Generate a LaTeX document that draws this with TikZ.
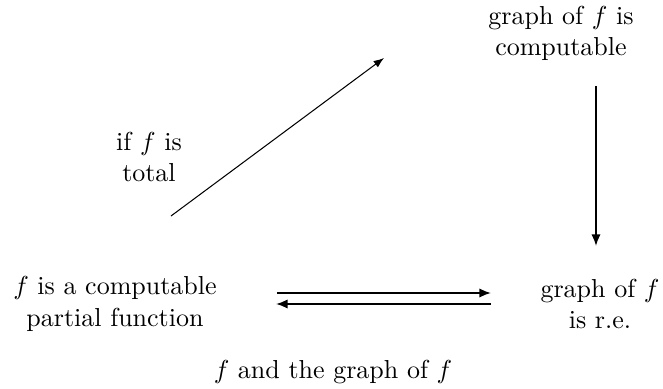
\documentclass[tikz,border=0pt]{standalone}
\usetikzlibrary{arrows.meta}
\begin{document}
\begin{tikzpicture}[x=0.3846pt,y=-0.3846pt,
  lbl/.style={align=center,inner sep=0pt},
  arr/.style={-{Latex[length=4.5pt,width=3.6pt]},line width=0.65pt},
  thinarr/.style={-{Latex[length=4pt,width=3pt]},line width=0.4pt}]
\useasboundingbox (0,0) rectangle (663,389);
\node[lbl] (gc) at (561,33) {graph of $f$ is\\computable};
\node[lbl] (tot) at (149,157) {if $f$ is\\total};
\node[lbl] (cpf) at (115,304) {$f$ is a computable\\partial function};
\node[lbl] (gre) at (600,304) {graph of $f$\\is r.e.};
\node[lbl,anchor=base] (bot) at (333,379) {$f$ and the graph of $f$};
\coordinate (d1) at (171,216);
\coordinate (d2) at (384,58);
\coordinate (v1) at (596,86);
\coordinate (v2) at (596,246);
\coordinate (h1) at (277,293);
\coordinate (h2) at (491,293);
\coordinate (h3) at (491,304);
\coordinate (h4) at (276,304);
\draw[thinarr] (d1) -- (d2);
\draw[arr] (v1) -- (v2);
\draw[arr] (h1) -- (h2);
\draw[arr] (h3) -- (h4);
\end{tikzpicture}
\end{document}
